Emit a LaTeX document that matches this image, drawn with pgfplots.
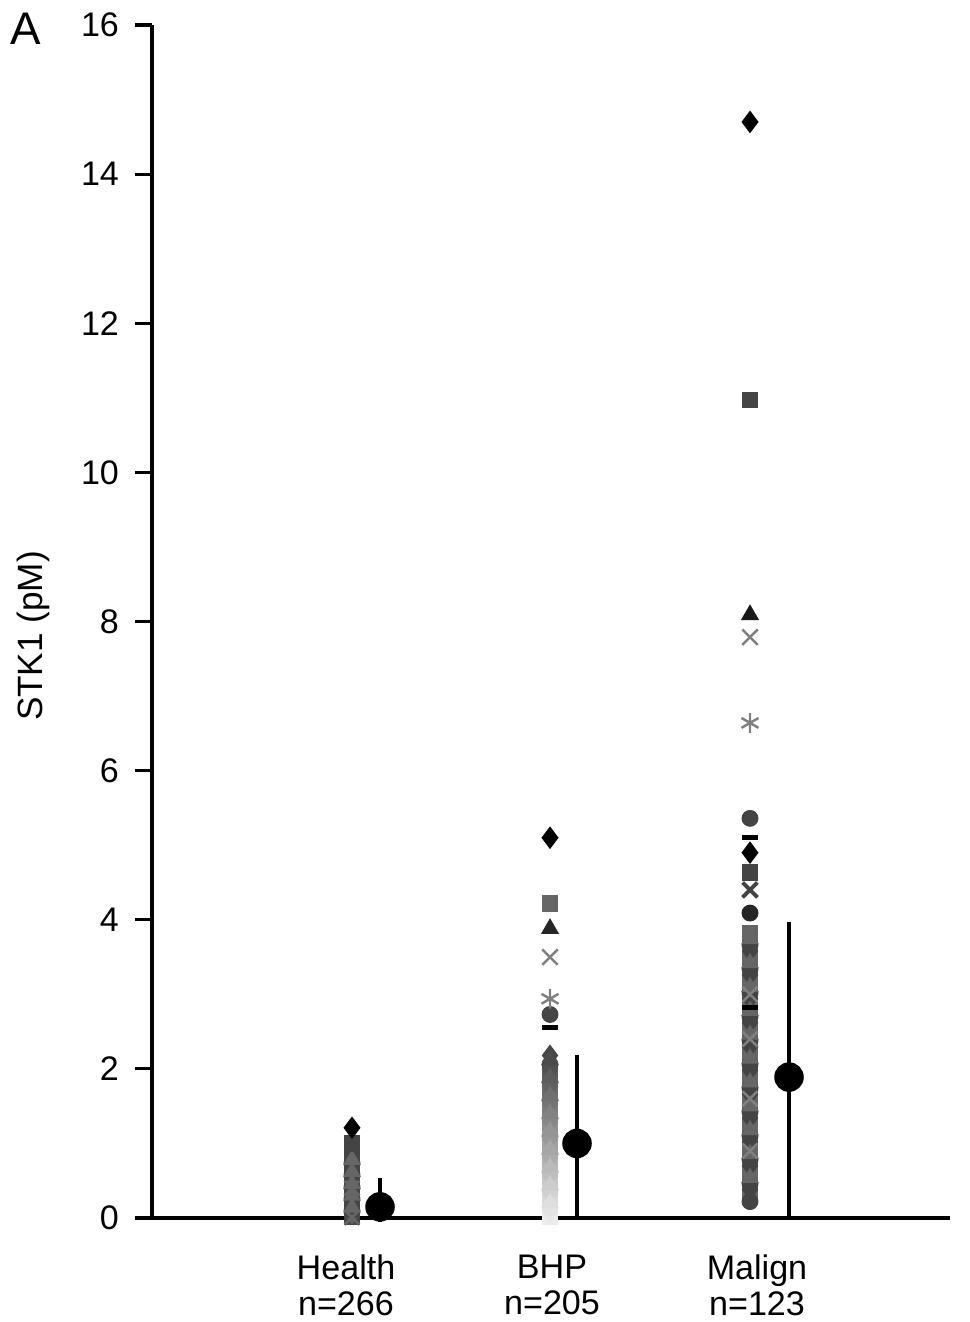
\documentclass[border=0pt]{standalone}
\usepackage{pgfplots}
\pgfplotsset{compat=1.18}
\usepackage{fontspec}
\setmainfont{Liberation Sans}
\definecolor{dg}{HTML}{444444}
\definecolor{mg}{HTML}{666666}
\definecolor{lg}{HTML}{808080}
\begin{document}
\fontsize{9.7}{10.2}\selectfont
\begin{tikzpicture}
\path[use as bounding box] (0,0) rectangle (96.9mm,-132.2mm);
\node[font=\fontsize{13}{15}\selectfont] at (2.6mm,-2.9mm) {A};
\node[rotate=90, font=\fontsize{10}{12}\selectfont] at (3.3mm,-63.6mm) {STK1 (pM)};
\begin{axis}[
  at={(15.2mm,-121.8mm)}, anchor=south west,
  scale only axis, width=79.8mm, height=119.3mm,
  xmin=152, xmax=950, ymin=0, ymax=16,
  axis lines*=left,
  axis line style={line width=1.2pt},
  ytick={0,2,...,16},
  xtick={346,552,757},
  xticklabels={{Health\\n=266},{BHP\\n=205},{Malign\\n=123}},
  xticklabel style={align=center, yshift=-0.8mm, font=\fontsize{9.7}{10.2}\selectfont},
  yticklabel style={xshift=-0.4mm, font=\fontsize{9.7}{10.2}\selectfont},
  x tick style={draw=none},
  y tick style={line width=0.9pt, black},
  tick align=outside, major tick length=1.7mm,
  /pgf/number format/assume math mode=true,
  clip=false,
  colormap={bhp}{rgb255=(238,238,238) rgb255=(70,70,70)},
  point meta min=0, point meta max=2.2,
  mark size=2.2pt,
]
% ---------- Health column ----------
\addplot[only marks, mark=square*, dg] coordinates {(352,0.02)(352,0.18)(352,0.34)(352,0.50)(352,0.66)(352,0.82)};
\addplot[only marks, mark=diamond*, mark size=2.8pt, mg] coordinates {(352,0.06)(352,0.22)(352,0.38)(352,0.54)(352,0.70)};
\addplot[only marks, mark=*, dg] coordinates {(352,0.10)(352,0.26)(352,0.42)(352,0.58)(352,0.74)};
\addplot[only marks, mark=triangle*, mark size=2.5pt, mg] coordinates {(352,0.14)(352,0.30)(352,0.46)(352,0.62)(352,0.78)};
\addplot[only marks, mark=x, mark size=3pt, mg, thick] coordinates {(352,0.01)(352,0.40)};
\addplot[only marks, mark=square*, dg] coordinates {(352,1.00)};
\addplot[only marks, mark=diamond*, mark size=2.9pt, black] coordinates {(352,1.21)};
% ---------- BHP column ----------
\addplot[scatter, only marks, mark=square*, point meta=y, scatter/use mapped color={draw=mapped color, fill=mapped color}] coordinates {(550,0.02)(550,0.26)(550,0.50)(550,0.74)(550,0.98)(550,1.22)(550,1.46)(550,1.70)(550,1.94)};
\addplot[scatter, only marks, mark=diamond*, mark size=2.8pt, point meta=y, scatter/use mapped color={draw=mapped color, fill=mapped color}] coordinates {(550,0.08)(550,0.32)(550,0.56)(550,0.80)(550,1.04)(550,1.28)(550,1.52)(550,1.76)(550,2.00)(550,2.18)};
\addplot[scatter, only marks, mark=*, point meta=y, scatter/use mapped color={draw=mapped color, fill=mapped color}] coordinates {(550,0.14)(550,0.38)(550,0.62)(550,0.86)(550,1.10)(550,1.34)(550,1.58)(550,1.82)(550,2.06)};
\addplot[scatter, only marks, mark=triangle*, mark size=2.5pt, point meta=y, scatter/use mapped color={draw=mapped color, fill=mapped color}] coordinates {(550,0.20)(550,0.44)(550,0.68)(550,0.92)(550,1.16)(550,1.40)(550,1.64)(550,1.88)(550,2.12)};
\addplot[only marks, mark=-, mark size=2.4pt, black, line width=1.4pt] coordinates {(550,2.55)};
\addplot[only marks, mark=*, dg] coordinates {(550,2.73)};
\addplot[only marks, mark=asterisk, mark size=2.8pt, lg, line width=0.7pt] coordinates {(550,2.94)};
\addplot[only marks, mark=x, mark size=3.1pt, lg, line width=0.7pt] coordinates {(550,3.50)};
\addplot[only marks, mark=triangle*, mark size=2.6pt, black!85] coordinates {(550,3.88)};
\addplot[only marks, mark=square*, mg] coordinates {(550,4.22)};
\addplot[only marks, mark=diamond*, mark size=2.9pt, black] coordinates {(550,5.10)};
% ---------- Malign column ----------
\addplot[only marks, mark=square*, mg] coordinates {(750,0.30)(750,0.62)(750,0.94)(750,1.26)(750,1.58)(750,1.90)(750,2.22)(750,2.54)(750,2.86)(750,3.18)(750,3.50)(750,3.82)};
\addplot[only marks, mark=diamond*, mark size=2.8pt, dg] coordinates {(750,0.38)(750,0.70)(750,1.02)(750,1.34)(750,1.66)(750,1.98)(750,2.30)(750,2.62)(750,2.94)(750,3.26)(750,3.58)};
\addplot[only marks, mark=*, dg] coordinates {(750,0.22)(750,0.46)(750,0.78)(750,1.10)(750,1.42)(750,1.74)(750,2.06)(750,2.38)(750,2.70)(750,3.02)(750,3.34)(750,3.66)};
\addplot[only marks, mark=triangle*, mark size=2.5pt, mg] coordinates {(750,0.54)(750,0.86)(750,1.18)(750,1.50)(750,1.82)(750,2.14)(750,2.46)(750,2.78)(750,3.10)(750,3.42)(750,3.74)};
\addplot[only marks, mark=x, mark size=3pt, lg, line width=0.7pt] coordinates {(750,0.90)(750,1.60)(750,2.40)(750,3.00)};
\addplot[only marks, mark=-, mark size=2.4pt, black, line width=1.4pt] coordinates {(750,2.82)};
\addplot[only marks, mark=*, black!85] coordinates {(750,4.09)};
\addplot[only marks, mark=x, mark size=3pt, dg, line width=1.1pt] coordinates {(750,4.40)};
\addplot[only marks, mark=square*, dg] coordinates {(750,4.63)};
\addplot[only marks, mark=diamond*, mark size=2.9pt, black] coordinates {(750,4.90)};
\addplot[only marks, mark=-, mark size=2.4pt, black, line width=1.4pt] coordinates {(750,5.10)};
\addplot[only marks, mark=*, dg] coordinates {(750,5.36)};
\addplot[only marks, mark=asterisk, mark size=2.8pt, lg, line width=0.7pt] coordinates {(750,6.64)};
\addplot[only marks, mark=x, mark size=3.1pt, lg, line width=0.7pt] coordinates {(750,7.79)};
\addplot[only marks, mark=triangle*, mark size=2.6pt, black!90] coordinates {(750,8.09)};
\addplot[only marks, mark=square*, dg] coordinates {(750,10.97)};
\addplot[only marks, mark=diamond*, mark size=2.9pt, black] coordinates {(750,14.70)};
% ---------- means +- SD ----------
\addplot[only marks, mark=*, mark size=4pt, black,
  error bars/.cd, y dir=both, y explicit, error mark=none,
  error bar style={line width=1.3pt, black}]
  coordinates {
  (380,0.15) += (0,0.39) -= (0,0.20)
  (577,1.00) += (0,1.19) -= (0,1.00)
  (789,1.89) += (0,2.08) -= (0,1.89)
  };
\end{axis}
\end{tikzpicture}
\end{document}
